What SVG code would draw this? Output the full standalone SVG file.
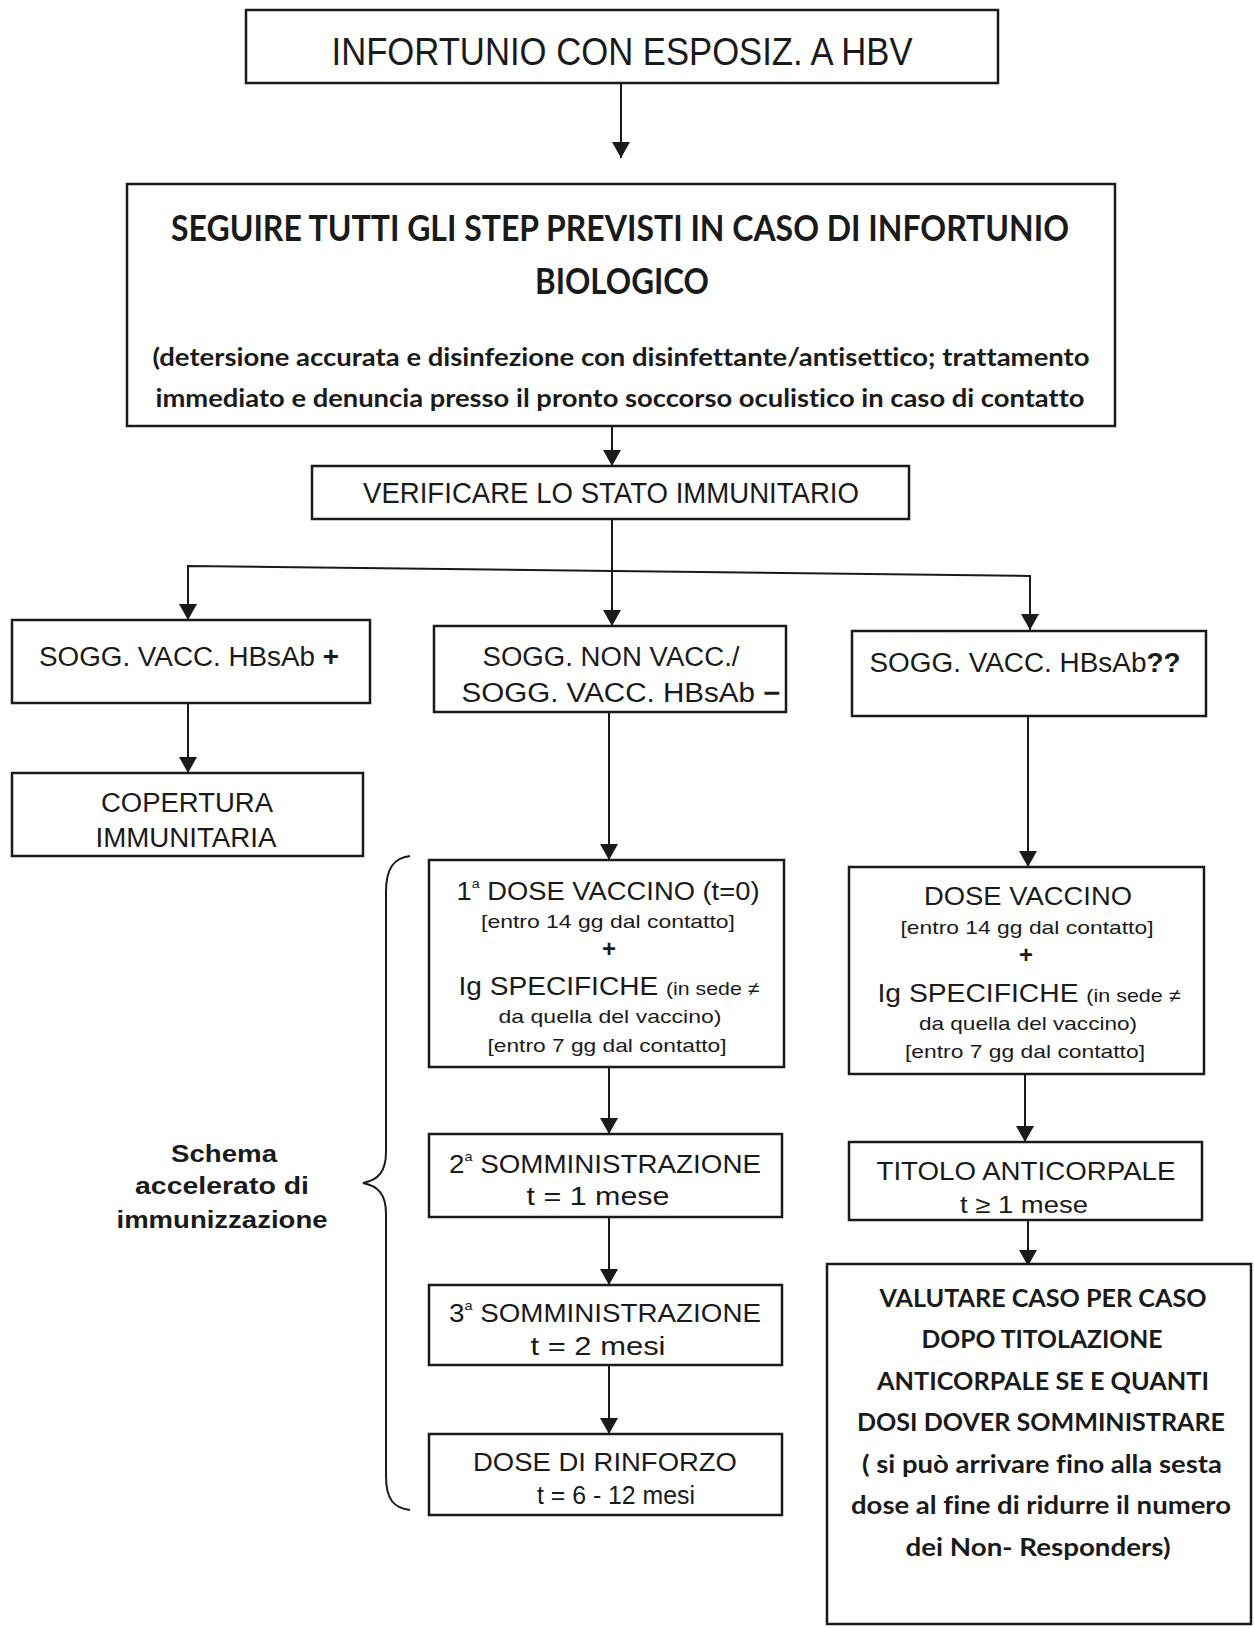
<svg xmlns="http://www.w3.org/2000/svg" width="1254" height="1628" viewBox="0 0 1254 1628">
<defs>
<marker id="ah" viewBox="0 0 16 18" refX="16" refY="9" markerWidth="16" markerHeight="18" markerUnits="userSpaceOnUse" orient="auto">
<path d="M0,0 L16,9 L0,18 Z" fill="#1a1a1a"/>
</marker>
<style>
.box{fill:#fff;stroke:#1a1a1a;stroke-width:2.5}
.ln{fill:none;stroke:#1a1a1a;stroke-width:2}
text{font-family:"Liberation Sans",Arial,sans-serif;fill:#1a1a1a;text-anchor:middle;font-variant-ligatures:none}
.c{font-family:Lato,"Open Sans",sans-serif;font-weight:bold}
.b{font-weight:bold}
</style>
</defs>
<rect width="1254" height="1628" fill="#fff"/>
<g id="connectors">
<line class="ln" x1="621" y1="83" x2="621" y2="158" marker-end="url(#ah)"/>
<line class="ln" x1="612" y1="426" x2="612" y2="466" marker-end="url(#ah)"/>
<line class="ln" x1="612" y1="519" x2="612" y2="626" marker-end="url(#ah)"/>
<polyline class="ln" points="188,620 188,566 1030,576 1030,630" marker-end="url(#ah)"/>
<line class="ln" x1="188" y1="566" x2="188" y2="620" marker-end="url(#ah)"/>
<line class="ln" x1="188" y1="703" x2="188" y2="773" marker-end="url(#ah)"/>
<line class="ln" x1="609" y1="712" x2="609" y2="860" marker-end="url(#ah)"/>
<line class="ln" x1="609" y1="1067" x2="609" y2="1134" marker-end="url(#ah)"/>
<line class="ln" x1="609" y1="1217" x2="609" y2="1285" marker-end="url(#ah)"/>
<line class="ln" x1="609" y1="1365" x2="609" y2="1434" marker-end="url(#ah)"/>
<line class="ln" x1="1028" y1="716" x2="1028" y2="867" marker-end="url(#ah)"/>
<line class="ln" x1="1025" y1="1074" x2="1025" y2="1142" marker-end="url(#ah)"/>
<line class="ln" x1="1028" y1="1220" x2="1028" y2="1266" marker-end="url(#ah)"/>
</g>
<g id="n1"><rect class="box" x="246" y="10" width="752" height="73"/>
<text x="622" y="65" font-size="38" textLength="581" lengthAdjust="spacingAndGlyphs">INFORTUNIO CON ESPOSIZ. A HBV</text></g>
<g id="n2"><rect class="box" x="127" y="184" width="988" height="242"/>
<text class="c" x="620" y="241" font-size="37" textLength="898" lengthAdjust="spacingAndGlyphs">SEGUIRE TUTTI GLI STEP PREVISTI IN CASO DI INFORTUNIO</text>
<text class="c" x="622" y="294" font-size="37" textLength="174" lengthAdjust="spacingAndGlyphs">BIOLOGICO</text>
<text class="c" x="621" y="366" font-size="25" textLength="937" lengthAdjust="spacingAndGlyphs">(detersione accurata e disinfezione con disinfettante/antisettico; trattamento</text>
<text class="c" x="620" y="407" font-size="25" textLength="929" lengthAdjust="spacingAndGlyphs">immediato e denuncia presso il pronto soccorso oculistico in caso di contatto</text></g>
<g id="n3"><rect class="box" x="312" y="466" width="597" height="53"/>
<text x="611" y="503" font-size="29" textLength="496" lengthAdjust="spacingAndGlyphs">VERIFICARE LO STATO IMMUNITARIO</text></g>
<g id="nL1"><rect class="box" x="12" y="620" width="358" height="83"/>
<text x="189" y="666" font-size="27" textLength="300" lengthAdjust="spacingAndGlyphs">SOGG. VACC. HBsAb <tspan class="b">+</tspan></text></g>
<g id="nM1"><rect class="box" x="434" y="626" width="352" height="86"/>
<text x="611" y="666" font-size="27" textLength="257" lengthAdjust="spacingAndGlyphs">SOGG. NON VACC./</text>
<text x="621" y="702" font-size="27" textLength="319" lengthAdjust="spacingAndGlyphs">SOGG. VACC. HBsAb <tspan class="b">−</tspan></text></g>
<g id="nR1"><rect class="box" x="852" y="631" width="354" height="85"/>
<text x="1025" y="672" font-size="27" textLength="311" lengthAdjust="spacingAndGlyphs">SOGG. VACC. HBsAb<tspan class="b">??</tspan></text></g>
<g id="nL2"><rect class="box" x="12" y="773" width="351" height="83"/>
<text x="187" y="812" font-size="27" textLength="172" lengthAdjust="spacingAndGlyphs">COPERTURA</text>
<text x="186" y="847" font-size="27" textLength="181" lengthAdjust="spacingAndGlyphs">IMMUNITARIA</text></g>
<g id="nM2"><rect class="box" x="429" y="860" width="355" height="207"/>
<text x="608" y="900" font-size="25" textLength="303" lengthAdjust="spacingAndGlyphs">1<tspan font-size="13" dy="-12">a</tspan><tspan dy="12"> DOSE VACCINO (t=0)</tspan></text>
<text x="608" y="928" font-size="19" textLength="254" lengthAdjust="spacingAndGlyphs">[entro 14 gg dal contatto]</text>
<text class="b" x="609" y="957" font-size="24">+</text>
<text x="609" y="995" font-size="25" textLength="301" lengthAdjust="spacingAndGlyphs">Ig SPECIFICHE <tspan font-size="19">(in sede ≠</tspan></text>
<text x="610" y="1023" font-size="19" textLength="223" lengthAdjust="spacingAndGlyphs">da quella del vaccino)</text>
<text x="607" y="1052" font-size="19" textLength="239" lengthAdjust="spacingAndGlyphs">[entro 7 gg dal contatto]</text></g>
<g id="nM3"><rect class="box" x="429" y="1134" width="353" height="83"/>
<text x="605" y="1173" font-size="25" textLength="312" lengthAdjust="spacingAndGlyphs">2<tspan font-size="13" dy="-12">a</tspan><tspan dy="12"> SOMMINISTRAZIONE</tspan></text>
<text x="598" y="1205" font-size="25" textLength="143" lengthAdjust="spacingAndGlyphs">t = 1 mese</text></g>
<g id="nM4"><rect class="box" x="429" y="1285" width="353" height="80"/>
<text x="605" y="1322" font-size="25" textLength="312" lengthAdjust="spacingAndGlyphs">3<tspan font-size="13" dy="-12">a</tspan><tspan dy="12"> SOMMINISTRAZIONE</tspan></text>
<text x="598" y="1355" font-size="25" textLength="135" lengthAdjust="spacingAndGlyphs">t = 2 mesi</text></g>
<g id="nM5"><rect class="box" x="429" y="1434" width="353" height="81"/>
<text x="605" y="1471" font-size="25" textLength="264" lengthAdjust="spacingAndGlyphs">DOSE DI RINFORZO</text>
<text x="616" y="1504" font-size="25" textLength="158" lengthAdjust="spacingAndGlyphs">t = 6 - 12 mesi</text></g>
<g id="nR2"><rect class="box" x="849" y="867" width="355" height="207"/>
<text x="1028" y="905" font-size="26" textLength="208" lengthAdjust="spacingAndGlyphs">DOSE VACCINO</text>
<text x="1027" y="934" font-size="19" textLength="253" lengthAdjust="spacingAndGlyphs">[entro 14 gg dal contatto]</text>
<text class="b" x="1026" y="963" font-size="24">+</text>
<text x="1029" y="1002" font-size="25" textLength="303" lengthAdjust="spacingAndGlyphs">Ig SPECIFICHE <tspan font-size="19">(in sede ≠</tspan></text>
<text x="1028" y="1030" font-size="19" textLength="218" lengthAdjust="spacingAndGlyphs">da quella del vaccino)</text>
<text x="1025" y="1058" font-size="19" textLength="240" lengthAdjust="spacingAndGlyphs">[entro 7 gg dal contatto]</text></g>
<g id="nR3"><rect class="box" x="849" y="1142" width="353" height="78"/>
<text x="1026" y="1180" font-size="25" textLength="299" lengthAdjust="spacingAndGlyphs">TITOLO ANTICORPALE</text>
<text x="1024" y="1213" font-size="24" textLength="128" lengthAdjust="spacingAndGlyphs">t ≥ 1 mese</text></g>
<g id="nR4"><rect class="box" x="827" y="1264" width="424" height="360"/>
<text class="c" x="1043" y="1307" font-size="25" textLength="327" lengthAdjust="spacingAndGlyphs">VALUTARE CASO PER CASO</text>
<text class="c" x="1042" y="1348" font-size="25" textLength="241" lengthAdjust="spacingAndGlyphs">DOPO TITOLAZIONE</text>
<text class="c" x="1043" y="1390" font-size="25" textLength="332" lengthAdjust="spacingAndGlyphs">ANTICORPALE SE E QUANTI</text>
<text class="c" x="1041" y="1431" font-size="25" textLength="368" lengthAdjust="spacingAndGlyphs">DOSI DOVER SOMMINISTRARE</text>
<text class="c" x="1042" y="1473" font-size="25" textLength="360" lengthAdjust="spacingAndGlyphs">( si può arrivare fino alla sesta</text>
<text class="c" x="1041" y="1514" font-size="25" textLength="380" lengthAdjust="spacingAndGlyphs">dose al fine di ridurre il numero</text>
<text class="c" x="1038" y="1556" font-size="25" textLength="265" lengthAdjust="spacingAndGlyphs">dei Non- Responders)</text></g>
<g id="brace">
<path class="ln" d="M410,856 C394,858 386,868 386,892 L386,1152 C386,1172 378,1180 363,1183 C378,1186 386,1194 386,1214 L386,1476 C386,1500 394,1508 410,1510"/>
<text class="b" x="224" y="1162" font-size="23" textLength="106" lengthAdjust="spacingAndGlyphs">Schema</text>
<text class="b" x="222" y="1194" font-size="23" textLength="174" lengthAdjust="spacingAndGlyphs">accelerato di</text>
<text class="b" x="222" y="1228" font-size="23" textLength="211" lengthAdjust="spacingAndGlyphs">immunizzazione</text>
</g>
</svg>
